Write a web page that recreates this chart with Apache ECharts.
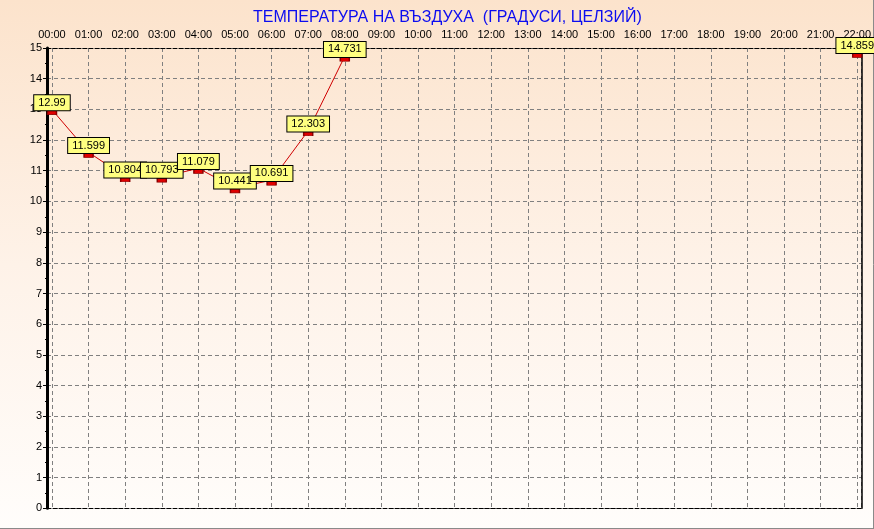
<!DOCTYPE html>
<html>
<head>
<meta charset="utf-8">
<script src="https://cdn.jsdelivr.net/npm/echarts@6/dist/echarts.min.js"></script>
<style>
html,body{margin:0;padding:0;}
#c{width:874px;height:529px;}
</style>
</head>
<body>
<div id="c"></div>
<script>
// ---- data ----
var titleText = 'ТЕМПЕРАТУРА НА ВЪЗДУХА  (ГРАДУСИ, ЦЕЛЗИЙ)';
var hours = ['00:00','01:00','02:00','03:00','04:00','05:00','06:00','07:00','08:00','09:00','10:00','11:00',
             '12:00','13:00','14:00','15:00','16:00','17:00','18:00','19:00','20:00','21:00','22:00'];
var temps = [12.99, 11.599, 10.804, 10.793, 11.079, 10.441, 10.691, 12.303, 14.731,
             null, null, null, null, null, null, null, null, null, null, null, null, null, 14.859];
var yTicks = [0,1,2,3,4,5,6,7,8,9,10,11,12,13,14,15];

var seriesData = hours.map(function(h, i){ return [i, temps[i]]; });

var chart = echarts.init(document.getElementById('c'), null, {renderer:'canvas'});
var xMin = -0.136, xMax = 22.12;
var fontFam = '"Liberation Sans", Arial, sans-serif';

chart.setOption({
  animation: false,
  backgroundColor: {
    type: 'linear', x: 0, y: 0, x2: 0, y2: 1,
    colorStops: [
      {offset: 0, color: '#fce3cc'},
      {offset: 0.5, color: '#fef2e8'},
      {offset: 1, color: '#fffdfb'}
    ]
  },
  title: {
    text: titleText,
    left: 248, top: 5,
    textStyle: {color: '#0c0cf0', fontSize: 16, fontWeight: 'normal', fontFamily: fontFam}
  },
  grid: {left: 47, right: 9.5, top: 48, bottom: 20.7, containLabel: false},
  xAxis: [{
    type: 'value', position: 'top', min: xMin, max: xMax,
    minInterval: 1, maxInterval: 1, splitNumber: 22,
    axisLine: {show: true, onZero: false, lineStyle: {color: '#000', width: 1, type: [4, 2]}},
    axisTick: {show: false},
    axisLabel: {
      show: true, margin: 8, color: '#000', fontSize: 11, fontFamily: fontFam,
      showMinLabel: false, showMaxLabel: false,
      formatter: function(v){ return (Math.abs(v - Math.round(v)) < 1e-6 && hours[Math.round(v)]) ? hours[Math.round(v)] : ''; }
    },
    splitLine: {show: true, lineStyle: {color: '#808080', width: 1, type: [4, 3]}}
  }, {
    type: 'value', position: 'bottom', min: xMin, max: xMax,
    axisLine: {show: true, onZero: false, lineStyle: {color: '#000', width: 1, type: [4, 2]}},
    axisTick: {show: false}, axisLabel: {show: false}, splitLine: {show: false}
  }],
  yAxis: [{
    type: 'value', min: 0, max: 15, interval: 1, position: 'left',
    axisLine: {show: true, onZero: false, lineStyle: {color: '#000', width: 3}},
    axisTick: {show: true, length: 4, lineStyle: {color: '#000', width: 1}},
    minorTick: {show: true, splitNumber: 2, length: 2, lineStyle: {color: '#000'}},
    axisLabel: {color: '#000', fontSize: 11, fontFamily: fontFam, margin: 5,
      formatter: function(v){ return yTicks.indexOf(v) >= 0 ? String(v) : ''; }},
    splitLine: {show: true, lineStyle: {color: '#808080', width: 1, type: [4, 3]}}
  }, {
    type: 'value', min: 0, max: 15, interval: 1, position: 'right',
    axisLine: {show: true, onZero: false, lineStyle: {color: '#000', width: 1.5}},
    axisTick: {show: false}, axisLabel: {show: false}, splitLine: {show: false}
  }],
  graphic: [
    {type: 'line', shape: {x1: 873.5, y1: 0, x2: 873.5, y2: 529}, style: {stroke: '#8a8a8a', lineWidth: 1}, z: 1},
    {type: 'line', shape: {x1: 0, y1: 528.5, x2: 874, y2: 528.5}, style: {stroke: '#8a8a8a', lineWidth: 1}, z: 1}
  ],
  series: [{
    type: 'line',
    xAxisIndex: 0, yAxisIndex: 0,
    data: seriesData,
    connectNulls: false,
    symbol: 'rect', symbolSize: [9, 4], symbolOffset: [0, 3],
    showAllSymbol: true,
    lineStyle: {color: '#d00000', width: 1},
    itemStyle: {color: '#e00000', borderColor: '#8a0000', borderWidth: 1},
    label: {
      show: true, position: 'top', distance: 0,
      formatter: function(p){ return String(p.value[1]); },
      color: '#000', fontSize: 11, fontFamily: fontFam,
      backgroundColor: '#ffff80', borderColor: '#000', borderWidth: 1,
      padding: [2, 4, 2, 4]
    },
    z: 5
  }]
});
</script>
</body>
</html>
